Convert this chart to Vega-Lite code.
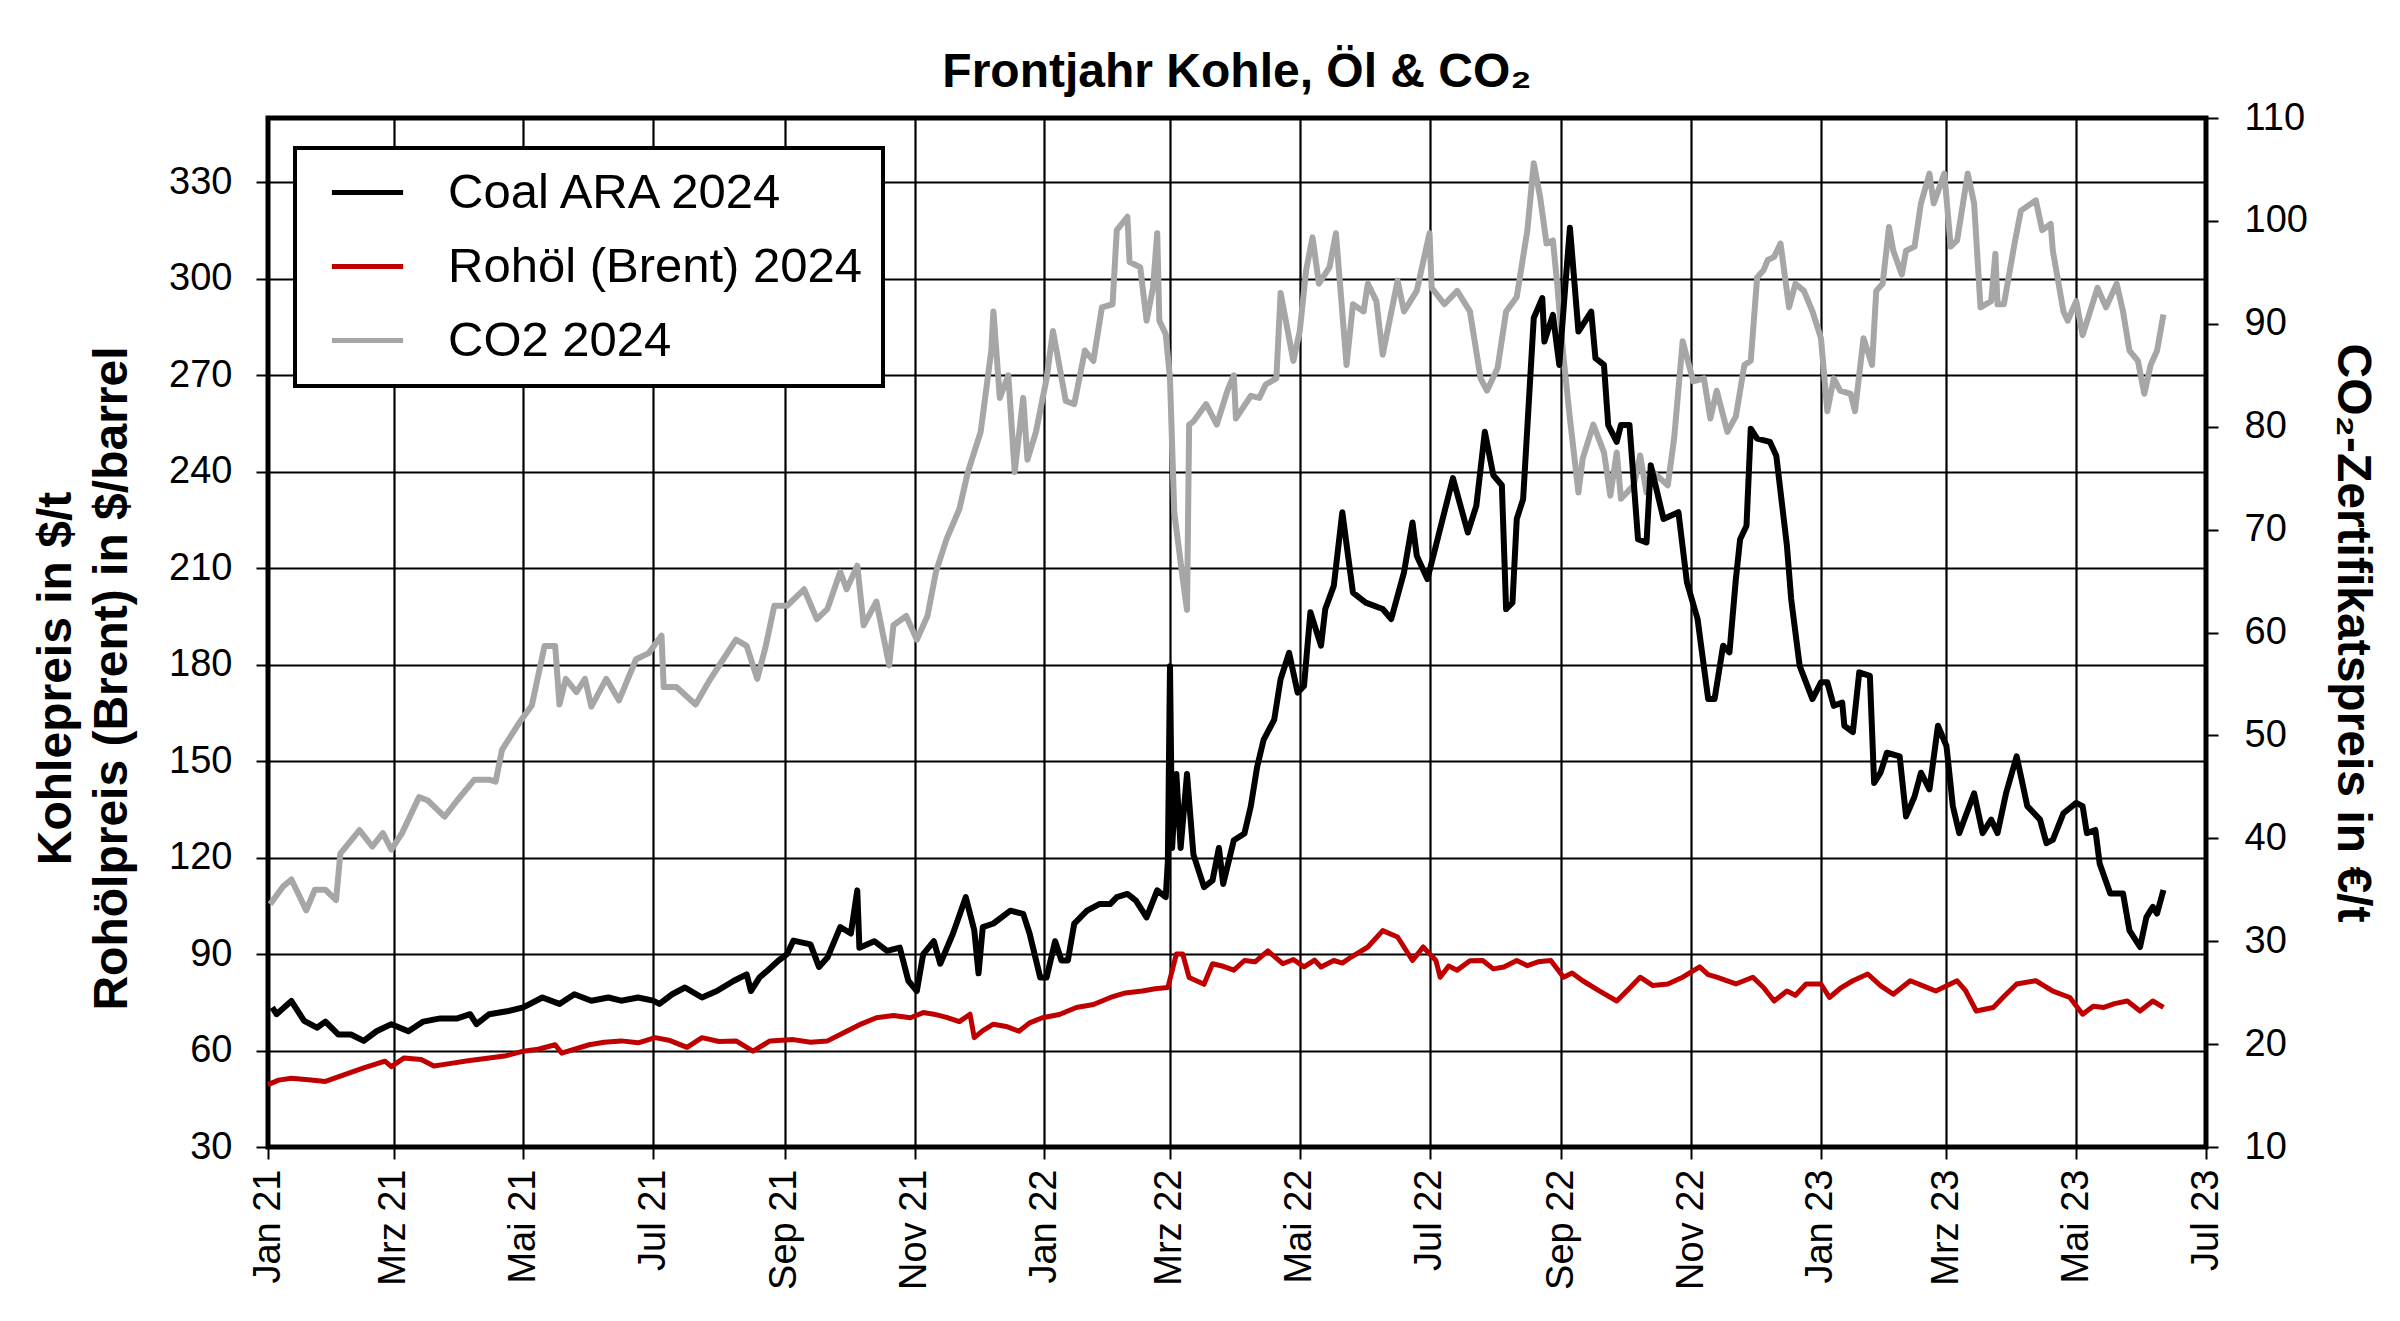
{
  "$schema": "https://vega.github.io/schema/vega-lite/v6.json",
  "description": "Frontjahr Kohle, Öl & CO2",
  "autosize": "none",
  "width": 1938,
  "height": 1029,
  "padding": {"left": 268, "top": 118, "right": 194, "bottom": 174},
  "background": "white",
  "title": {
    "text": "Frontjahr Kohle, Öl & CO₂",
    "fontSize": 48,
    "fontWeight": "bold",
    "anchor": "middle",
    "offset": 2,
    "color": "black"
  },
  "config": {
    "font": "Liberation Sans",
    "view": {"stroke": "black", "strokeWidth": 5},
    "axis": {
      "labelColor": "black",
      "titleColor": "black",
      "labelFontSize": 38,
      "titleFontSize": 48,
      "titleFontWeight": "bold",
      "domain": false,
      "tickColor": "black",
      "tickWidth": 2,
      "tickSize": 12,
      "gridColor": "black",
      "gridWidth": 2.2,
      "gridOpacity": 1
    },
    "legend": {
      "strokeColor": "black",
      "strokeWidth": 4,
      "fillColor": "white",
      "padding": 20,
      "symbolType": "M-1.78,0H1.78",
      "symbolSize": 1600,
      "symbolStrokeWidth": 5,
      "symbolOffset": 28,
      "labelOffset": 56,
      "labelFontSize": 49,
      "labelColor": "black",
      "rowPadding": 24,
      "labelLimit": 900
    }
  },
  "datasets": {
    "co2": [
      {"d": "2021-01-02", "v": 33.6}, {"d": "2021-01-08", "v": 35.3}, {"d": "2021-01-12", "v": 36},
      {"d": "2021-01-19", "v": 33}, {"d": "2021-01-23", "v": 35}, {"d": "2021-01-28", "v": 35},
      {"d": "2021-02-02", "v": 34}, {"d": "2021-02-04", "v": 38.5}, {"d": "2021-02-13", "v": 40.8},
      {"d": "2021-02-19", "v": 39.2}, {"d": "2021-02-24", "v": 40.5}, {"d": "2021-02-28", "v": 38.9},
      {"d": "2021-03-05", "v": 40.5}, {"d": "2021-03-13", "v": 44}, {"d": "2021-03-17", "v": 43.7},
      {"d": "2021-03-25", "v": 42.1}, {"d": "2021-03-31", "v": 43.7}, {"d": "2021-04-08", "v": 45.7},
      {"d": "2021-04-15", "v": 45.7}, {"d": "2021-04-18", "v": 45.5}, {"d": "2021-04-21", "v": 48.6},
      {"d": "2021-04-29", "v": 51.2}, {"d": "2021-05-05", "v": 52.9}, {"d": "2021-05-11", "v": 58.7},
      {"d": "2021-05-16", "v": 58.7}, {"d": "2021-05-18", "v": 53}, {"d": "2021-05-21", "v": 55.5},
      {"d": "2021-05-26", "v": 54.2}, {"d": "2021-05-30", "v": 55.5}, {"d": "2021-06-02", "v": 52.8},
      {"d": "2021-06-09", "v": 55.5}, {"d": "2021-06-15", "v": 53.4}, {"d": "2021-06-23", "v": 57.4},
      {"d": "2021-06-29", "v": 58}, {"d": "2021-07-05", "v": 59.7}, {"d": "2021-07-06", "v": 54.7},
      {"d": "2021-07-12", "v": 54.7}, {"d": "2021-07-21", "v": 53}, {"d": "2021-07-28", "v": 55.5},
      {"d": "2021-08-03", "v": 57.4}, {"d": "2021-08-09", "v": 59.3}, {"d": "2021-08-14", "v": 58.7},
      {"d": "2021-08-19", "v": 55.5}, {"d": "2021-08-23", "v": 58.7}, {"d": "2021-08-27", "v": 62.6},
      {"d": "2021-09-02", "v": 62.6}, {"d": "2021-09-10", "v": 64.2}, {"d": "2021-09-16", "v": 61.3},
      {"d": "2021-09-21", "v": 62.3}, {"d": "2021-09-27", "v": 65.9}, {"d": "2021-09-30", "v": 64.2},
      {"d": "2021-10-05", "v": 66.5}, {"d": "2021-10-08", "v": 60.7}, {"d": "2021-10-14", "v": 63},
      {"d": "2021-10-20", "v": 56.8}, {"d": "2021-10-22", "v": 60.7}, {"d": "2021-10-28", "v": 61.6},
      {"d": "2021-11-02", "v": 59.3}, {"d": "2021-11-07", "v": 61.6}, {"d": "2021-11-11", "v": 65.9},
      {"d": "2021-11-16", "v": 69.1}, {"d": "2021-11-22", "v": 72}, {"d": "2021-11-26", "v": 75.6},
      {"d": "2021-12-02", "v": 79.5}, {"d": "2021-12-07", "v": 87.4}, {"d": "2021-12-08", "v": 91.2},
      {"d": "2021-12-11", "v": 82.8}, {"d": "2021-12-15", "v": 85}, {"d": "2021-12-18", "v": 75.6},
      {"d": "2021-12-22", "v": 82.8}, {"d": "2021-12-24", "v": 76.8}, {"d": "2021-12-28", "v": 79.5},
      {"d": "2022-01-02", "v": 84.7}, {"d": "2022-01-05", "v": 89.3}, {"d": "2022-01-11", "v": 82.5},
      {"d": "2022-01-15", "v": 82.2}, {"d": "2022-01-20", "v": 87.4}, {"d": "2022-01-24", "v": 86.4},
      {"d": "2022-01-28", "v": 91.6}, {"d": "2022-02-02", "v": 91.9}, {"d": "2022-02-04", "v": 99.1},
      {"d": "2022-02-09", "v": 100.4}, {"d": "2022-02-10", "v": 96}, {"d": "2022-02-15", "v": 95.5},
      {"d": "2022-02-18", "v": 90.3}, {"d": "2022-02-21", "v": 93.5}, {"d": "2022-02-23", "v": 98.8},
      {"d": "2022-02-24", "v": 90.3}, {"d": "2022-02-27", "v": 89}, {"d": "2022-03-01", "v": 84.7},
      {"d": "2022-03-03", "v": 71.7}, {"d": "2022-03-07", "v": 65.2}, {"d": "2022-03-09", "v": 62.2},
      {"d": "2022-03-10", "v": 80.2}, {"d": "2022-03-12", "v": 80.5}, {"d": "2022-03-18", "v": 82.2},
      {"d": "2022-03-23", "v": 80.2}, {"d": "2022-03-28", "v": 83.5}, {"d": "2022-03-31", "v": 85},
      {"d": "2022-04-01", "v": 80.8}, {"d": "2022-04-08", "v": 83}, {"d": "2022-04-12", "v": 82.8},
      {"d": "2022-04-15", "v": 84.1}, {"d": "2022-04-20", "v": 84.7}, {"d": "2022-04-22", "v": 93},
      {"d": "2022-04-28", "v": 86.4}, {"d": "2022-05-01", "v": 89.3}, {"d": "2022-05-04", "v": 95.2},
      {"d": "2022-05-07", "v": 98.4}, {"d": "2022-05-10", "v": 93.9}, {"d": "2022-05-15", "v": 95.5},
      {"d": "2022-05-18", "v": 98.8}, {"d": "2022-05-23", "v": 86}, {"d": "2022-05-26", "v": 91.9},
      {"d": "2022-05-31", "v": 91.2}, {"d": "2022-06-02", "v": 93.9}, {"d": "2022-06-06", "v": 92.2},
      {"d": "2022-06-09", "v": 87}, {"d": "2022-06-16", "v": 94.2}, {"d": "2022-06-19", "v": 91.2},
      {"d": "2022-06-25", "v": 93.2}, {"d": "2022-07-01", "v": 98.8}, {"d": "2022-07-02", "v": 93.5},
      {"d": "2022-07-08", "v": 91.9}, {"d": "2022-07-14", "v": 93.2}, {"d": "2022-07-20", "v": 91.2},
      {"d": "2022-07-25", "v": 84.7}, {"d": "2022-07-28", "v": 83.5}, {"d": "2022-08-02", "v": 85.7},
      {"d": "2022-08-06", "v": 91.2}, {"d": "2022-08-11", "v": 92.6}, {"d": "2022-08-16", "v": 99.1},
      {"d": "2022-08-19", "v": 105.6}, {"d": "2022-08-22", "v": 102.3}, {"d": "2022-08-25", "v": 97.8},
      {"d": "2022-08-28", "v": 98.1}, {"d": "2022-08-30", "v": 93.9}, {"d": "2022-09-02", "v": 86.7},
      {"d": "2022-09-05", "v": 80.8}, {"d": "2022-09-09", "v": 73.6}, {"d": "2022-09-11", "v": 76.9},
      {"d": "2022-09-16", "v": 80.2}, {"d": "2022-09-21", "v": 77.5}, {"d": "2022-09-24", "v": 73.3},
      {"d": "2022-09-27", "v": 77.5}, {"d": "2022-09-29", "v": 73}, {"d": "2022-10-05", "v": 74.3},
      {"d": "2022-10-08", "v": 77.2}, {"d": "2022-10-11", "v": 73.6}, {"d": "2022-10-14", "v": 75.6},
      {"d": "2022-10-21", "v": 74.3}, {"d": "2022-10-24", "v": 78.9}, {"d": "2022-10-28", "v": 88.3},
      {"d": "2022-11-02", "v": 84.4}, {"d": "2022-11-07", "v": 84.7}, {"d": "2022-11-10", "v": 80.8},
      {"d": "2022-11-13", "v": 83.5}, {"d": "2022-11-18", "v": 79.5}, {"d": "2022-11-22", "v": 81},
      {"d": "2022-11-26", "v": 86}, {"d": "2022-11-29", "v": 86.4}, {"d": "2022-12-02", "v": 94.5},
      {"d": "2022-12-05", "v": 95.2}, {"d": "2022-12-07", "v": 96.2}, {"d": "2022-12-10", "v": 96.5},
      {"d": "2022-12-13", "v": 97.8}, {"d": "2022-12-17", "v": 91.6}, {"d": "2022-12-20", "v": 93.9},
      {"d": "2022-12-24", "v": 93.2}, {"d": "2022-12-28", "v": 91.2}, {"d": "2023-01-01", "v": 88.6},
      {"d": "2023-01-04", "v": 81.5}, {"d": "2023-01-07", "v": 84.7}, {"d": "2023-01-10", "v": 83.5},
      {"d": "2023-01-15", "v": 83.2}, {"d": "2023-01-17", "v": 81.5}, {"d": "2023-01-21", "v": 88.6},
      {"d": "2023-01-25", "v": 86}, {"d": "2023-01-27", "v": 93.2}, {"d": "2023-01-30", "v": 93.9},
      {"d": "2023-02-02", "v": 99.4}, {"d": "2023-02-04", "v": 97.1}, {"d": "2023-02-08", "v": 94.8},
      {"d": "2023-02-10", "v": 97.1}, {"d": "2023-02-14", "v": 97.5}, {"d": "2023-02-17", "v": 101.7},
      {"d": "2023-02-21", "v": 104.6}, {"d": "2023-02-23", "v": 101.7}, {"d": "2023-02-28", "v": 104.6},
      {"d": "2023-03-03", "v": 97.5}, {"d": "2023-03-06", "v": 98.1}, {"d": "2023-03-11", "v": 104.6},
      {"d": "2023-03-14", "v": 101.7}, {"d": "2023-03-17", "v": 91.6}, {"d": "2023-03-22", "v": 92.2},
      {"d": "2023-03-24", "v": 96.8}, {"d": "2023-03-25", "v": 91.9}, {"d": "2023-03-28", "v": 91.9},
      {"d": "2023-04-02", "v": 97.8}, {"d": "2023-04-05", "v": 101}, {"d": "2023-04-12", "v": 102},
      {"d": "2023-04-15", "v": 99.1}, {"d": "2023-04-19", "v": 99.7}, {"d": "2023-04-20", "v": 97.1},
      {"d": "2023-04-25", "v": 91.2}, {"d": "2023-04-27", "v": 90.3}, {"d": "2023-05-01", "v": 92.2},
      {"d": "2023-05-04", "v": 88.9}, {"d": "2023-05-11", "v": 93.5}, {"d": "2023-05-15", "v": 91.6},
      {"d": "2023-05-20", "v": 93.9}, {"d": "2023-05-23", "v": 91.2}, {"d": "2023-05-26", "v": 87.4},
      {"d": "2023-05-30", "v": 86.4}, {"d": "2023-06-02", "v": 83.2}, {"d": "2023-06-05", "v": 86},
      {"d": "2023-06-08", "v": 87.4}, {"d": "2023-06-11", "v": 90.9}
    ],
    "coal": [
      {"d": "2021-01-03", "v": 73.4}, {"d": "2021-01-05", "v": 71.3}, {"d": "2021-01-12", "v": 75.4},
      {"d": "2021-01-18", "v": 69.2}, {"d": "2021-01-24", "v": 67.1}, {"d": "2021-01-28", "v": 69},
      {"d": "2021-02-03", "v": 65}, {"d": "2021-02-09", "v": 65}, {"d": "2021-02-15", "v": 63},
      {"d": "2021-02-21", "v": 66}, {"d": "2021-02-28", "v": 68.2}, {"d": "2021-03-08", "v": 66},
      {"d": "2021-03-15", "v": 69}, {"d": "2021-03-23", "v": 70}, {"d": "2021-03-31", "v": 70},
      {"d": "2021-04-06", "v": 71.3}, {"d": "2021-04-09", "v": 68.2}, {"d": "2021-04-15", "v": 71.3},
      {"d": "2021-04-24", "v": 72.3}, {"d": "2021-05-01", "v": 73.4}, {"d": "2021-05-10", "v": 76.5},
      {"d": "2021-05-18", "v": 74.5}, {"d": "2021-05-25", "v": 77.5}, {"d": "2021-06-02", "v": 75.5},
      {"d": "2021-06-10", "v": 76.5}, {"d": "2021-06-16", "v": 75.5}, {"d": "2021-06-24", "v": 76.5},
      {"d": "2021-07-01", "v": 75.5}, {"d": "2021-07-04", "v": 74.5}, {"d": "2021-07-10", "v": 77.5},
      {"d": "2021-07-16", "v": 79.6}, {"d": "2021-07-24", "v": 76.5}, {"d": "2021-07-31", "v": 78.5},
      {"d": "2021-08-08", "v": 81.7}, {"d": "2021-08-14", "v": 83.7}, {"d": "2021-08-16", "v": 78.5},
      {"d": "2021-08-20", "v": 82.7}, {"d": "2021-08-24", "v": 85}, {"d": "2021-08-29", "v": 88},
      {"d": "2021-09-02", "v": 90}, {"d": "2021-09-05", "v": 94.2}, {"d": "2021-09-13", "v": 93},
      {"d": "2021-09-17", "v": 86}, {"d": "2021-09-21", "v": 88.9}, {"d": "2021-09-27", "v": 98.4},
      {"d": "2021-10-02", "v": 96.4}, {"d": "2021-10-05", "v": 109.8}, {"d": "2021-10-06", "v": 92},
      {"d": "2021-10-13", "v": 94}, {"d": "2021-10-19", "v": 91}, {"d": "2021-10-25", "v": 92},
      {"d": "2021-10-29", "v": 81.7}, {"d": "2021-11-02", "v": 78.5}, {"d": "2021-11-05", "v": 90},
      {"d": "2021-11-10", "v": 94}, {"d": "2021-11-13", "v": 87}, {"d": "2021-11-19", "v": 96.4},
      {"d": "2021-11-25", "v": 107.7}, {"d": "2021-11-29", "v": 97.4}, {"d": "2021-12-01", "v": 84},
      {"d": "2021-12-03", "v": 98.4}, {"d": "2021-12-08", "v": 99.5}, {"d": "2021-12-16", "v": 103.5},
      {"d": "2021-12-22", "v": 102.5}, {"d": "2021-12-25", "v": 96.4}, {"d": "2021-12-30", "v": 82.7},
      {"d": "2022-01-02", "v": 82.7}, {"d": "2022-01-06", "v": 94}, {"d": "2022-01-09", "v": 88},
      {"d": "2022-01-12", "v": 88}, {"d": "2022-01-15", "v": 99.5}, {"d": "2022-01-21", "v": 103.5},
      {"d": "2022-01-27", "v": 105.6}, {"d": "2022-02-01", "v": 105.6}, {"d": "2022-02-04", "v": 107.7},
      {"d": "2022-02-09", "v": 108.7}, {"d": "2022-02-13", "v": 106.6}, {"d": "2022-02-18", "v": 101.4},
      {"d": "2022-02-23", "v": 109.8}, {"d": "2022-02-27", "v": 107.7}, {"d": "2022-02-28", "v": 119},
      {"d": "2022-03-01", "v": 179.5}, {"d": "2022-03-02", "v": 123}, {"d": "2022-03-04", "v": 146},
      {"d": "2022-03-06", "v": 123}, {"d": "2022-03-09", "v": 146}, {"d": "2022-03-12", "v": 121},
      {"d": "2022-03-17", "v": 110.8}, {"d": "2022-03-21", "v": 112.9}, {"d": "2022-03-24", "v": 123},
      {"d": "2022-03-26", "v": 111.8}, {"d": "2022-03-31", "v": 125.4}, {"d": "2022-04-05", "v": 127.5},
      {"d": "2022-04-08", "v": 136}, {"d": "2022-04-11", "v": 148.3}, {"d": "2022-04-14", "v": 156.6},
      {"d": "2022-04-19", "v": 162.9}, {"d": "2022-04-22", "v": 175.5}, {"d": "2022-04-26", "v": 183.7},
      {"d": "2022-04-30", "v": 171.3}, {"d": "2022-05-03", "v": 173.4}, {"d": "2022-05-06", "v": 196.3},
      {"d": "2022-05-11", "v": 185.9}, {"d": "2022-05-13", "v": 197.3}, {"d": "2022-05-17", "v": 204.5},
      {"d": "2022-05-21", "v": 227.4}, {"d": "2022-05-26", "v": 202.4}, {"d": "2022-06-01", "v": 199.3},
      {"d": "2022-06-09", "v": 197.3}, {"d": "2022-06-13", "v": 194.2}, {"d": "2022-06-19", "v": 208.7},
      {"d": "2022-06-23", "v": 224.2}, {"d": "2022-06-25", "v": 213.9}, {"d": "2022-06-30", "v": 206.6},
      {"d": "2022-07-04", "v": 217}, {"d": "2022-07-12", "v": 238}, {"d": "2022-07-19", "v": 221.1},
      {"d": "2022-07-23", "v": 229.4}, {"d": "2022-07-27", "v": 252.4}, {"d": "2022-07-31", "v": 238.9},
      {"d": "2022-08-04", "v": 235.8}, {"d": "2022-08-06", "v": 197.3}, {"d": "2022-08-09", "v": 199.3},
      {"d": "2022-08-11", "v": 225.3}, {"d": "2022-08-14", "v": 231.5}, {"d": "2022-08-19", "v": 287.8},
      {"d": "2022-08-23", "v": 294}, {"d": "2022-08-24", "v": 280.5}, {"d": "2022-08-28", "v": 288.8},
      {"d": "2022-08-31", "v": 273.2}, {"d": "2022-09-03", "v": 299.3}, {"d": "2022-09-05", "v": 315.9},
      {"d": "2022-09-09", "v": 283.6}, {"d": "2022-09-15", "v": 289.8}, {"d": "2022-09-17", "v": 275.3},
      {"d": "2022-09-21", "v": 273.2}, {"d": "2022-09-23", "v": 254.5}, {"d": "2022-09-27", "v": 249.3},
      {"d": "2022-09-29", "v": 254.5}, {"d": "2022-10-03", "v": 254.5}, {"d": "2022-10-07", "v": 219},
      {"d": "2022-10-11", "v": 218}, {"d": "2022-10-13", "v": 242}, {"d": "2022-10-19", "v": 225.3},
      {"d": "2022-10-26", "v": 227.4}, {"d": "2022-10-30", "v": 205.6}, {"d": "2022-11-04", "v": 194.2},
      {"d": "2022-11-09", "v": 169.3}, {"d": "2022-11-12", "v": 169.3}, {"d": "2022-11-16", "v": 185.9},
      {"d": "2022-11-19", "v": 183.8}, {"d": "2022-11-22", "v": 206.6}, {"d": "2022-11-24", "v": 219},
      {"d": "2022-11-27", "v": 223.2}, {"d": "2022-11-29", "v": 253.4}, {"d": "2022-12-02", "v": 250.3},
      {"d": "2022-12-08", "v": 249.3}, {"d": "2022-12-11", "v": 245}, {"d": "2022-12-16", "v": 217},
      {"d": "2022-12-18", "v": 200.4}, {"d": "2022-12-22", "v": 179.6}, {"d": "2022-12-28", "v": 169.3},
      {"d": "2023-01-01", "v": 174.5}, {"d": "2023-01-04", "v": 174.5}, {"d": "2023-01-07", "v": 167.2},
      {"d": "2023-01-11", "v": 168.2}, {"d": "2023-01-12", "v": 161}, {"d": "2023-01-16", "v": 159},
      {"d": "2023-01-19", "v": 177.6}, {"d": "2023-01-24", "v": 176.5}, {"d": "2023-01-26", "v": 143.2},
      {"d": "2023-01-29", "v": 146.4}, {"d": "2023-02-01", "v": 152.6}, {"d": "2023-02-07", "v": 151.5},
      {"d": "2023-02-10", "v": 132.8}, {"d": "2023-02-14", "v": 139}, {"d": "2023-02-17", "v": 146.4},
      {"d": "2023-02-21", "v": 141.2}, {"d": "2023-02-25", "v": 161}, {"d": "2023-03-01", "v": 154.7},
      {"d": "2023-03-04", "v": 136}, {"d": "2023-03-07", "v": 127.6}, {"d": "2023-03-14", "v": 140},
      {"d": "2023-03-18", "v": 127.6}, {"d": "2023-03-22", "v": 131.8}, {"d": "2023-03-25", "v": 127.6},
      {"d": "2023-03-29", "v": 140}, {"d": "2023-04-03", "v": 151.5}, {"d": "2023-04-08", "v": 136},
      {"d": "2023-04-14", "v": 131.8}, {"d": "2023-04-17", "v": 124.5}, {"d": "2023-04-20", "v": 125.5},
      {"d": "2023-04-25", "v": 133.8}, {"d": "2023-05-01", "v": 137}, {"d": "2023-05-04", "v": 136},
      {"d": "2023-05-06", "v": 127.6}, {"d": "2023-05-10", "v": 128.6}, {"d": "2023-05-12", "v": 118.2},
      {"d": "2023-05-17", "v": 108.8}, {"d": "2023-05-20", "v": 108.8}, {"d": "2023-05-23", "v": 108.8},
      {"d": "2023-05-26", "v": 97.4}, {"d": "2023-05-31", "v": 92.2}, {"d": "2023-06-03", "v": 101.5},
      {"d": "2023-06-06", "v": 104.7}, {"d": "2023-06-08", "v": 102.6}, {"d": "2023-06-11", "v": 109.9}
    ],
    "brent": [
      {"d": "2021-01-01", "v": 49.4}, {"d": "2021-01-06", "v": 50.8}, {"d": "2021-01-12", "v": 51.4},
      {"d": "2021-01-20", "v": 50.9}, {"d": "2021-01-28", "v": 50.4}, {"d": "2021-02-06", "v": 52.5},
      {"d": "2021-02-15", "v": 54.6}, {"d": "2021-02-25", "v": 56.7}, {"d": "2021-02-28", "v": 55},
      {"d": "2021-03-06", "v": 57.7}, {"d": "2021-03-14", "v": 57.2}, {"d": "2021-03-20", "v": 55.2},
      {"d": "2021-03-25", "v": 55.7}, {"d": "2021-04-05", "v": 56.8}, {"d": "2021-04-15", "v": 57.7},
      {"d": "2021-04-23", "v": 58.4}, {"d": "2021-05-01", "v": 59.8}, {"d": "2021-05-08", "v": 60.4},
      {"d": "2021-05-16", "v": 61.8}, {"d": "2021-05-19", "v": 59.2}, {"d": "2021-06-01", "v": 61.8},
      {"d": "2021-06-08", "v": 62.6}, {"d": "2021-06-16", "v": 63}, {"d": "2021-06-24", "v": 62.4},
      {"d": "2021-07-02", "v": 64}, {"d": "2021-07-09", "v": 63.1}, {"d": "2021-07-17", "v": 61},
      {"d": "2021-07-24", "v": 64}, {"d": "2021-08-01", "v": 62.8}, {"d": "2021-08-09", "v": 63},
      {"d": "2021-08-17", "v": 59.8}, {"d": "2021-08-25", "v": 63}, {"d": "2021-09-05", "v": 63.4},
      {"d": "2021-09-13", "v": 62.6}, {"d": "2021-09-21", "v": 63}, {"d": "2021-09-30", "v": 66},
      {"d": "2021-10-07", "v": 68.3}, {"d": "2021-10-14", "v": 70.2}, {"d": "2021-10-22", "v": 70.9},
      {"d": "2021-10-30", "v": 70.2}, {"d": "2021-11-05", "v": 71.8}, {"d": "2021-11-10", "v": 71.3},
      {"d": "2021-11-16", "v": 70.3}, {"d": "2021-11-22", "v": 69}, {"d": "2021-11-27", "v": 71.3},
      {"d": "2021-11-29", "v": 64}, {"d": "2021-12-03", "v": 66.2}, {"d": "2021-12-08", "v": 68.2},
      {"d": "2021-12-14", "v": 67.5}, {"d": "2021-12-20", "v": 66}, {"d": "2021-12-25", "v": 68.6},
      {"d": "2021-12-31", "v": 70.2}, {"d": "2022-01-08", "v": 71.2}, {"d": "2022-01-16", "v": 73.4},
      {"d": "2022-01-24", "v": 74.3}, {"d": "2022-02-01", "v": 76.5}, {"d": "2022-02-08", "v": 77.9},
      {"d": "2022-02-16", "v": 78.5}, {"d": "2022-02-22", "v": 79.2}, {"d": "2022-02-28", "v": 79.6},
      {"d": "2022-03-04", "v": 90}, {"d": "2022-03-07", "v": 90}, {"d": "2022-03-10", "v": 82.7},
      {"d": "2022-03-17", "v": 80.6}, {"d": "2022-03-21", "v": 87}, {"d": "2022-03-26", "v": 86.2},
      {"d": "2022-03-31", "v": 85}, {"d": "2022-04-05", "v": 88}, {"d": "2022-04-10", "v": 87.6},
      {"d": "2022-04-16", "v": 91}, {"d": "2022-04-23", "v": 87}, {"d": "2022-04-28", "v": 88.3},
      {"d": "2022-05-03", "v": 86}, {"d": "2022-05-08", "v": 88.1}, {"d": "2022-05-11", "v": 86},
      {"d": "2022-05-17", "v": 88}, {"d": "2022-05-21", "v": 87.2}, {"d": "2022-05-25", "v": 89},
      {"d": "2022-06-02", "v": 92.2}, {"d": "2022-06-09", "v": 97.3}, {"d": "2022-06-16", "v": 95.3},
      {"d": "2022-06-23", "v": 88}, {"d": "2022-06-28", "v": 92.2}, {"d": "2022-07-04", "v": 88},
      {"d": "2022-07-06", "v": 82.8}, {"d": "2022-07-10", "v": 86.3}, {"d": "2022-07-14", "v": 85},
      {"d": "2022-07-20", "v": 87.9}, {"d": "2022-07-26", "v": 88}, {"d": "2022-07-31", "v": 85.4},
      {"d": "2022-08-05", "v": 86}, {"d": "2022-08-11", "v": 88}, {"d": "2022-08-16", "v": 86.4},
      {"d": "2022-08-21", "v": 87.6}, {"d": "2022-08-27", "v": 88}, {"d": "2022-09-02", "v": 82.8},
      {"d": "2022-09-06", "v": 84.1}, {"d": "2022-09-11", "v": 81.7}, {"d": "2022-09-19", "v": 78.5},
      {"d": "2022-09-27", "v": 75.4}, {"d": "2022-10-03", "v": 79.4}, {"d": "2022-10-08", "v": 82.8},
      {"d": "2022-10-14", "v": 80.2}, {"d": "2022-10-21", "v": 80.7}, {"d": "2022-10-28", "v": 82.8},
      {"d": "2022-11-05", "v": 86}, {"d": "2022-11-09", "v": 83.6}, {"d": "2022-11-13", "v": 82.8},
      {"d": "2022-11-22", "v": 80.7}, {"d": "2022-11-30", "v": 82.8}, {"d": "2022-12-05", "v": 79.6},
      {"d": "2022-12-10", "v": 75.4}, {"d": "2022-12-16", "v": 78.5}, {"d": "2022-12-20", "v": 77.2},
      {"d": "2022-12-25", "v": 80.7}, {"d": "2023-01-01", "v": 80.7}, {"d": "2023-01-05", "v": 76.5},
      {"d": "2023-01-10", "v": 79.3}, {"d": "2023-01-16", "v": 81.7}, {"d": "2023-01-23", "v": 83.8},
      {"d": "2023-01-29", "v": 80.2}, {"d": "2023-02-04", "v": 77.5}, {"d": "2023-02-12", "v": 81.7},
      {"d": "2023-02-18", "v": 80.1}, {"d": "2023-02-24", "v": 78.5}, {"d": "2023-03-06", "v": 81.7},
      {"d": "2023-03-10", "v": 78.6}, {"d": "2023-03-15", "v": 72.3}, {"d": "2023-03-23", "v": 73.4},
      {"d": "2023-03-28", "v": 76.8}, {"d": "2023-04-03", "v": 80.7}, {"d": "2023-04-12", "v": 81.7},
      {"d": "2023-04-20", "v": 78.5}, {"d": "2023-04-28", "v": 76.5}, {"d": "2023-05-04", "v": 71.3},
      {"d": "2023-05-09", "v": 73.8}, {"d": "2023-05-14", "v": 73.4}, {"d": "2023-05-19", "v": 74.6},
      {"d": "2023-05-25", "v": 75.4}, {"d": "2023-05-31", "v": 72.3}, {"d": "2023-06-06", "v": 75.4},
      {"d": "2023-06-11", "v": 73.4}
    ]
  },
  "resolve": {"scale": {"y": "independent"}},
  "layer": [
    {
      "data": {"name": "co2"},
      "mark": {"type": "line", "strokeWidth": 6, "strokeJoin": "round"},
      "encoding": {
        "x": {
          "field": "d",
          "type": "temporal",
          "scale": {
            "type": "utc",
            "domain": [
              {"year": 2021, "month": 1, "date": 1, "utc": true},
              {"year": 2023, "month": 7, "date": 1, "utc": true}
            ]
          },
          "axis": {
            "title": null,
            "grid": true,
            "labelAngle": 270,
            "labelPadding": 10,
            "labelExpr": "['Jan','Feb','Mrz','Apr','Mai','Jun','Jul','Aug','Sep','Okt','Nov','Dez'][utcmonth(datum.value)] + ' ' + utcFormat(datum.value, '%y')",
            "values": [
              {"year": 2021, "month": 1, "date": 1, "utc": true},
              {"year": 2021, "month": 3, "date": 1, "utc": true},
              {"year": 2021, "month": 5, "date": 1, "utc": true},
              {"year": 2021, "month": 7, "date": 1, "utc": true},
              {"year": 2021, "month": 9, "date": 1, "utc": true},
              {"year": 2021, "month": 11, "date": 1, "utc": true},
              {"year": 2022, "month": 1, "date": 1, "utc": true},
              {"year": 2022, "month": 3, "date": 1, "utc": true},
              {"year": 2022, "month": 5, "date": 1, "utc": true},
              {"year": 2022, "month": 7, "date": 1, "utc": true},
              {"year": 2022, "month": 9, "date": 1, "utc": true},
              {"year": 2022, "month": 11, "date": 1, "utc": true},
              {"year": 2023, "month": 1, "date": 1, "utc": true},
              {"year": 2023, "month": 3, "date": 1, "utc": true},
              {"year": 2023, "month": 5, "date": 1, "utc": true},
              {"year": 2023, "month": 7, "date": 1, "utc": true}
            ]
          }
        },
        "y": {
          "field": "v",
          "type": "quantitative",
          "scale": {"domain": [10, 110], "nice": false, "zero": false},
          "axis": {
            "orient": "right",
            "grid": false,
            "values": [10, 20, 30, 40, 50, 60, 70, 80, 90, 100, 110],
            "labelPadding": 26,
            "title": "CO₂-Zertifikatspreis in €/t",
            "titlePadding": 20
          }
        },
        "color": {
          "datum": "CO2 2024",
          "type": "nominal",
          "scale": {
            "domain": ["Coal ARA 2024", "Rohöl (Brent) 2024", "CO2 2024"],
            "range": ["#000000", "#c00000", "#a6a6a6"]
          },
          "legend": {"title": null, "orient": "none", "legendX": 27, "legendY": 30}
        }
      }
    },
    {
      "layer": [
        {
          "data": {"name": "coal"},
          "mark": {"type": "line", "strokeWidth": 6, "strokeJoin": "round"},
          "encoding": {
            "x": {"field": "d", "type": "temporal"},
            "y": {
              "field": "v",
              "type": "quantitative",
              "scale": {"domain": [30, 350], "nice": false, "zero": false},
              "axis": {
                "orient": "left",
                "grid": true,
                "values": [30, 60, 90, 120, 150, 180, 210, 240, 270, 300, 330],
                "labelPadding": 24,
                "title": ["Kohlepreis in $/t", "Rohölpreis (Brent) in $/barrel"],
                "titleLineHeight": 56,
                "titlePadding": 32,
                "titleY": 560
              }
            },
            "color": {
              "datum": "Coal ARA 2024",
              "type": "nominal",
              "legend": {"title": null, "orient": "none", "legendX": 27, "legendY": 30}
            }
          }
        },
        {
          "data": {"name": "brent"},
          "mark": {"type": "line", "strokeWidth": 5, "strokeJoin": "round"},
          "encoding": {
            "x": {"field": "d", "type": "temporal"},
            "y": {"field": "v", "type": "quantitative"},
            "color": {
              "datum": "Rohöl (Brent) 2024",
              "type": "nominal",
              "legend": {"title": null, "orient": "none", "legendX": 27, "legendY": 30}
            }
          }
        }
      ]
    }
  ]
}
